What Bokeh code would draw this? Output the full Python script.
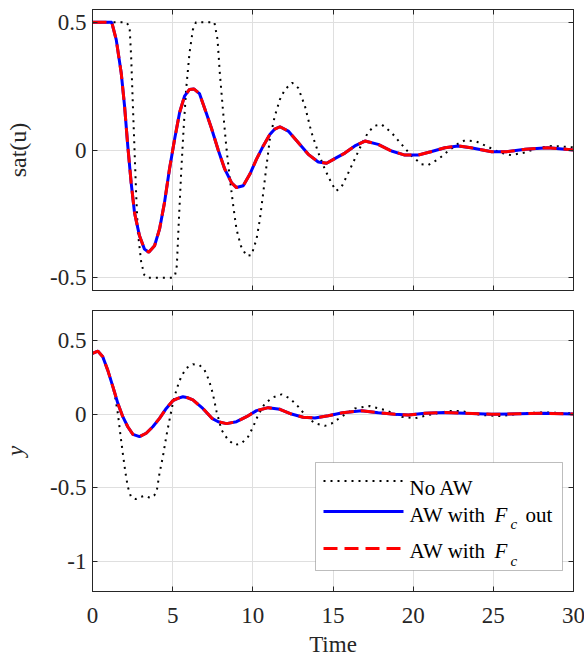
from bokeh.plotting import figure
from bokeh.models import (Range1d, FixedTicker, LinearAxis, Label, BoxAnnotation,
                          CustomJSTickFormatter)
from bokeh.layouts import column
from bokeh.embed import file_html
from bokeh.resources import INLINE

# ---------------- data ----------------
# top panel: sat(u), AW curves (AW with Fc out / AW with Fc coincide)
t_u_aw = [0, 1.2, 1.48, 1.79, 2.0, 2.2, 2.41, 2.62, 2.93, 3.24,
          3.51, 3.87, 4.18, 4.49, 4.8, 5.12, 5.43, 5.74, 6.05, 6.32,
          6.67, 7.09, 7.42, 7.84, 8.25, 8.67, 8.98, 9.4, 9.81, 10.23,
          10.65, 11.06, 11.37, 11.69, 12.21, 12.83, 13.46, 14.08, 14.6, 15.22, 15.74,
          16.36, 16.99, 17.82, 18.65, 19.48, 20.3, 21.1, 21.98, 22.8, 23.6,
          24.9, 25.8, 27.0, 28.4, 30]
u_aw_fc_out = [0.5, 0.5, 0.432, 0.302, 0.172, 0.016, -0.128, -0.245, -0.336, -0.388,
               -0.40, -0.375, -0.31, -0.206, -0.075, 0.042, 0.146, 0.211, 0.237, 0.239,
               0.221, 0.146, 0.085, 0.0, -0.075, -0.128, -0.147, -0.14, -0.095, -0.036,
               0.016, 0.061, 0.082, 0.091, 0.074, 0.029, -0.017, -0.047, -0.052, -0.03, -0.012,
               0.016, 0.035, 0.022, -0.004, -0.02, -0.02, -0.007, 0.009, 0.016, 0.009,
               -0.007, -0.007, 0.003, 0.009, 0.0]
u_aw_fc = [0.5, 0.5, 0.432, 0.302, 0.172, 0.016, -0.128, -0.245, -0.336, -0.388,
           -0.40, -0.375, -0.31, -0.206, -0.075, 0.042, 0.146, 0.211, 0.237, 0.239,
           0.221, 0.146, 0.085, 0.0, -0.075, -0.128, -0.147, -0.14, -0.095, -0.036,
           0.016, 0.061, 0.082, 0.091, 0.074, 0.029, -0.017, -0.047, -0.052, -0.03, -0.012,
           0.016, 0.035, 0.022, -0.004, -0.02, -0.02, -0.007, 0.009, 0.016, 0.009,
           -0.007, -0.007, 0.003, 0.009, 0.0]

# top panel: sat(u), No AW
t_u_noaw = [0, 2.1, 2.31, 2.41, 2.52, 2.62, 2.72, 2.83, 3.04, 3.24,
            3.4, 5.0, 5.15, 5.26, 5.38, 5.53, 5.68, 5.84, 6.05, 6.26,
            6.45, 7.6, 7.8, 7.94, 8.15, 8.36, 8.57, 8.78, 8.98, 9.25,
            9.6, 9.92, 10.23, 10.44, 10.65, 10.85, 11.06, 11.37, 11.69, 12.0,
            12.46, 12.83, 13.25, 13.66, 14.08, 14.49, 14.91, 15.2, 15.53, 15.95,
            16.36, 16.78, 17.2, 17.6, 18.03, 18.65, 19.28, 19.9, 20.52, 20.94,
            21.57, 22.19, 22.81, 23.23, 23.95, 24.68, 25.4, 26.1, 26.97, 27.7,
            28.63, 29.7, 30]
u_noaw = [0.5, 0.5, 0.484, 0.367, 0.172, 0.003, -0.167, -0.323, -0.44, -0.49,
          -0.5, -0.5, -0.49, -0.453, -0.284, -0.089, 0.081, 0.237, 0.38, 0.471,
          0.5, 0.5, 0.432, 0.302, 0.146, 0.003, -0.114, -0.219, -0.31, -0.375,
          -0.414, -0.411, -0.349, -0.271, -0.167, -0.063, 0.042, 0.133, 0.198, 0.237,
          0.263, 0.243, 0.172, 0.068, -0.01, -0.075, -0.13, -0.16, -0.145, -0.09,
          -0.035, 0.022, 0.07, 0.095, 0.10, 0.068, 0.022, -0.023, -0.056, -0.059,
          -0.036, -0.004, 0.025, 0.038, 0.033, 0.012, -0.01, -0.02, -0.01, 0.007,
          0.016, 0.012, 0.01]

# bottom panel: y, AW curves
t_y_aw = [0, 0.33, 0.64, 0.95, 1.27, 1.58, 1.89, 2.2, 2.52, 2.93,
          3.35, 3.76, 4.18, 4.6, 5.01, 5.32, 5.64, 5.95, 6.26, 6.88, 7.45, 7.84,
          8.36, 8.98, 9.61, 10.23, 10.96, 11.69, 12.41, 13.14, 13.87, 14.7,
          15.6, 16.78, 17.82, 18.86, 19.7, 20.73, 21.98, 23.23, 24.89, 26.56,
          28.2, 30]
y_aw_fc_out = [0.41, 0.426, 0.387, 0.297, 0.185, 0.072, -0.018, -0.086, -0.137, -0.153,
               -0.13, -0.086, -0.029, 0.038, 0.09, 0.106, 0.117, 0.11, 0.095, 0.038, -0.029, -0.052,
               -0.065, -0.052, -0.018, 0.023, 0.043, 0.032, 0.0, -0.022, -0.027, -0.012,
               0.009, 0.022, 0.009, -0.002, -0.007, 0.005, 0.011, 0.005, -0.002, 0.002,
               0.005, 0.0]
y_aw_fc = [0.41, 0.426, 0.387, 0.297, 0.185, 0.072, -0.018, -0.086, -0.137, -0.153,
           -0.13, -0.086, -0.029, 0.038, 0.09, 0.106, 0.117, 0.11, 0.095, 0.038, -0.029, -0.052,
           -0.065, -0.052, -0.018, 0.023, 0.043, 0.032, 0.0, -0.022, -0.027, -0.012,
           0.009, 0.022, 0.009, -0.002, -0.007, 0.005, 0.011, 0.005, -0.002, 0.002,
           0.005, 0.0]

# bottom panel: y, No AW
t_y_noaw = [0, 0.33, 0.64, 0.95, 1.27, 1.42, 1.58, 1.73, 1.89, 2.06,
            2.2, 2.4, 2.7, 3.0, 3.3, 3.6, 3.85, 4.0, 4.18, 4.39,
            4.6, 4.8, 5.01, 5.26, 5.53, 5.84, 6.26, 6.67, 6.99, 7.26,
            7.5, 7.74, 8.05, 8.46, 8.88, 9.3, 9.71, 10.02, 10.33, 10.75,
            11.27, 11.79, 12.31, 12.83, 13.35, 13.87, 14.49, 14.9, 15.53, 16.36,
            17.3, 18.24, 19.28, 20.1, 20.94, 22.19, 23.0, 24.27, 25.5, 26.8,
            28.2, 29.7, 30]
y_noaw = [0.41, 0.426, 0.387, 0.297, 0.185, 0.11, 0.005, -0.13, -0.266, -0.4,
          -0.491, -0.56, -0.575, -0.56, -0.553, -0.568, -0.55, -0.525, -0.4, -0.288,
          -0.153, -0.041, 0.072, 0.173, 0.252, 0.309, 0.336, 0.331, 0.297, 0.23,
          0.14, 0.016, -0.108, -0.176, -0.209, -0.198, -0.153, -0.086, -0.007, 0.072,
          0.113, 0.133, 0.106, 0.05, -0.018, -0.063, -0.08, -0.065, -0.018, 0.038,
          0.054, 0.027, -0.018, -0.029, -0.007, 0.02, 0.02, -0.007, -0.014, 0.005,
          0.011, 0.005, 0.004]

x_ticks = [0, 5, 10, 15, 20, 25, 30]
x_tick_labels = ["0", "5", "10", "15", "20", "25", "30"]
top_y_ticks = [-0.5, 0, 0.5]
top_y_tick_labels = ["-0.5", "0", "0.5"]
bot_y_ticks = [-1, -0.5, 0, 0.5]
bot_y_tick_labels = ["-1", "-0.5", "0", "0.5"]
x_range = (0, 30)
top_y_range = (-0.55, 0.55)
bot_y_range = (-1.2, 0.7)
x_title = "Time"
top_y_title = "sat(u)"
bot_y_title = "y"

# ---------------- style ----------------
FONT = "Liberation Serif"
AXC = "#262626"
GRIDC = "#dfdfdf"
FW, FH = 481, 281
BLUE = "#0000ff"
RED = "#ff0000"

FMT_CODE = """
for (let i = 0; i < tv.length; i++) {
  if (Math.abs(tv[i] - tick) < 1e-9) { return tl[i]; }
}
return "";
"""


def style_axis(ax, ticks, labels, show):
    ax.ticker = FixedTicker(ticks=ticks, minor_ticks=[])
    ax.axis_line_color = AXC
    ax.axis_line_width = 1
    ax.major_tick_line_color = AXC
    ax.major_tick_line_width = 1
    ax.major_tick_in = 5
    ax.major_tick_out = 0
    ax.minor_tick_line_color = None
    ax.axis_label = None
    if show:
        ax.formatter = CustomJSTickFormatter(args=dict(tv=list(ticks), tl=list(labels)),
                                             code=FMT_CODE)
        ax.major_label_text_font = FONT
        ax.major_label_text_font_size = "23px"
        ax.major_label_text_color = AXC
    else:
        ax.major_label_overrides = {float(k): "" for k in ticks}
        ax.major_label_text_font_size = "0px"
        ax.major_label_standoff = 0


def set_title(ax, text, size, style, standoff):
    ax.axis_label = text
    ax.axis_label_text_font = FONT
    ax.axis_label_text_font_size = size
    ax.axis_label_text_font_style = style
    ax.axis_label_text_color = AXC
    ax.axis_label_standoff = standoff


def make_fig(yr, yticks, ylabels, show_x, btop, bbot):
    p = figure(frame_width=FW, frame_height=FH,
               x_range=Range1d(*x_range), y_range=Range1d(*yr),
               output_backend="svg", toolbar_location=None,
               min_border_left=91, min_border_right=12,
               min_border_top=btop, min_border_bottom=bbot)
    p.background_fill_color = "white"
    p.border_fill_color = "white"
    p.outline_line_color = AXC
    ax_b = p.below[0]
    ax_l = p.left[0]
    style_axis(ax_b, x_ticks, x_tick_labels, show_x)
    style_axis(ax_l, yticks, ylabels, True)
    ax_l.major_label_standoff = 6
    if show_x:
        ax_b.major_label_standoff = 16
    ax_t = LinearAxis()
    style_axis(ax_t, x_ticks, x_tick_labels, False)
    p.add_layout(ax_t, "above")
    ax_r = LinearAxis()
    style_axis(ax_r, yticks, ylabels, False)
    p.add_layout(ax_r, "right")
    p.xgrid.ticker = FixedTicker(ticks=x_ticks, minor_ticks=[])
    p.ygrid.ticker = FixedTicker(ticks=yticks, minor_ticks=[])
    p.grid.grid_line_color = GRIDC
    p.grid.grid_line_width = 1
    return p, ax_b, ax_l


# ---------------- top panel ----------------
top, top_xax, top_yax = make_fig(top_y_range, top_y_ticks, top_y_tick_labels, False, 9, 10)
set_title(top_yax, top_y_title, "24px", "normal", 16)
top.line(t_u_noaw, u_noaw, line_color="black", line_width=2, line_dash="2 5")
top.line(t_u_aw, u_aw_fc_out, line_color=BLUE, line_width=3)
top.line(t_u_aw, u_aw_fc, line_color=RED, line_width=3, line_dash="14 7")

# ---------------- bottom panel ----------------
bot, bot_xax, bot_yax = make_fig(bot_y_range, bot_y_ticks, bot_y_tick_labels, True, 10, 69)
set_title(bot_yax, bot_y_title, "23px", "italic", 19)
set_title(bot_xax, x_title, "23px", "normal", 6)
bot.line(t_y_noaw, y_noaw, line_color="black", line_width=2, line_dash="2 5")
bot.line(t_y_aw, y_aw_fc_out, line_color=BLUE, line_width=3)
bot.line(t_y_aw, y_aw_fc, line_color=RED, line_width=3, line_dash="14 7")

# ---------------- legend (manual, in the bottom panel) ----------------
legend_box = BoxAnnotation(left=223, right=470, top=129, bottom=21,
                           left_units="screen", right_units="screen",
                           top_units="screen", bottom_units="screen",
                           fill_color="white", fill_alpha=1.0,
                           line_color=AXC, line_width=1, level="underlay")
bot.add_layout(legend_box)


def fx(px):
    return x_range[0] + px / FW * (x_range[1] - x_range[0])


def fy(py):
    return bot_y_range[0] + py / FH * (bot_y_range[1] - bot_y_range[0])


lx = [fx(231), fx(311)]
bot.line(lx, [fy(110.5)] * 2, line_color="black", line_width=2, line_dash="2 5")
bot.line(lx, [fy(80)] * 2, line_color=BLUE, line_width=3)
bot.line(lx, [fy(43)] * 2, line_color=RED, line_width=3, line_dash="14 7")

legend_pieces = [
    ("No AW", 317, 104, "21px", "normal"),
    ("AW with", 317, 77, "21px", "normal"),
    ("F", 402, 77, "21px", "italic"),
    ("c", 418, 67.5, "15px", "italic"),
    ("out", 433, 77, "21px", "normal"),
    ("AW with", 317, 41, "21px", "normal"),
    ("F", 402, 41, "21px", "italic"),
    ("c", 418, 31, "15px", "italic"),
]
for txt, lxp, lyp, fs, st in legend_pieces:
    bot.add_layout(Label(x=lxp, y=lyp, x_units="screen", y_units="screen", text=txt,
                         text_font=FONT, text_font_size=fs, text_font_style=st,
                         text_color="black", text_align="left", text_baseline="alphabetic"))

layout = column(top, bot)
open("out.html", "w").write(file_html(layout, INLINE))
